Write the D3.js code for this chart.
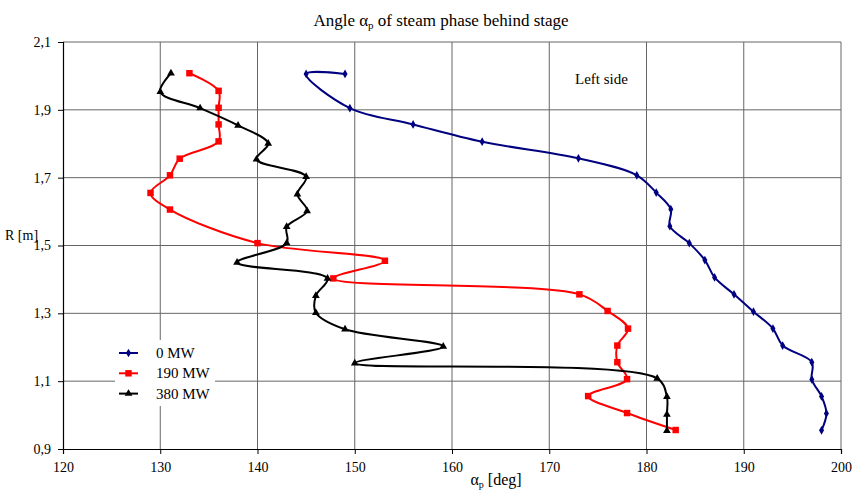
<!DOCTYPE html>
<html>
<head>
<meta charset="utf-8">
<script src="https://cdn.jsdelivr.net/npm/d3@7"></script>
<style>
  body { margin: 0; background: #fff; }
  text { font-family: "Liberation Serif", "Times New Roman", serif; fill: #000; }
</style>
</head>
<body>
<svg id="chart"></svg>
<script>
// series names
var seriesNames = ["0 MW", "190 MW", "380 MW"];

// 0 MW
var angle0 = [149.0, 145.0, 149.5, 156.0, 163.1, 173.0, 179.0, 181.0, 182.5, 182.4, 184.4,
  186.0, 187.0, 189.0, 191.0, 193.0, 194.0, 197.0, 197.0, 198.0, 198.5, 198.0];
var radius0 = [2.006, 2.006, 1.905, 1.857, 1.806, 1.757, 1.707, 1.656, 1.607, 1.557, 1.507,
  1.457, 1.406, 1.356, 1.305, 1.255, 1.205, 1.156, 1.105, 1.055, 1.005, 0.955];

// 190 MW
var angle190 = [133.0, 136.0, 136.0, 136.0, 136.0, 132.0, 131.0, 129.0, 131.0, 140.0, 153.1,
  147.8, 173.1, 176.0, 178.1, 177.0, 177.0, 178.0, 174.0, 178.0, 183.0];
var radius190 = [2.008, 1.956, 1.906, 1.857, 1.807, 1.756, 1.707, 1.655, 1.606, 1.507, 1.455,
  1.403, 1.356, 1.307, 1.255, 1.205, 1.156, 1.106, 1.056, 1.006, 0.956];

// 380 MW
var angle380 = [131.1, 130.0, 134.1, 138.0, 141.1, 139.9, 145.0, 144.1, 145.1, 143.0, 143.0,
  137.9, 147.2, 146.0, 146.0, 149.0, 159.1, 150.0, 181.1, 182.1, 182.1, 182.1];
var radius380 = [2.008, 1.953, 1.905, 1.854, 1.801, 1.754, 1.703, 1.651, 1.602, 1.555, 1.507,
  1.450, 1.403, 1.352, 1.302, 1.253, 1.202, 1.153, 1.108, 1.054, 1.002, 0.954];

var xTicks = [120, 130, 140, 150, 160, 170, 180, 190, 200];
var yTicks = [0.9, 1.1, 1.3, 1.5, 1.7, 1.9, 2.1];

var W = 853, H = 491;
var plotL = 63, plotR = 841, plotT = 42, plotB = 449;

var svg = d3.select("#chart").attr("width", W).attr("height", H);

var x = d3.scaleLinear().domain([120, 200]).range([plotL, plotR]);
var y = d3.scaleLinear().domain([0.9, 2.1]).range([plotB, plotT]);

// grid
svg.append("g").selectAll("line")
  .data(xTicks.slice(1))
  .enter().append("line")
  .attr("x1", d => x(d)).attr("x2", d => x(d))
  .attr("y1", plotT).attr("y2", plotB)
  .attr("stroke", "#666").attr("stroke-width", 1);

svg.append("g").selectAll("line")
  .data(yTicks.slice(1))
  .enter().append("line")
  .attr("x1", plotL).attr("x2", plotR)
  .attr("y1", d => y(d)).attr("y2", d => y(d))
  .attr("stroke", "#666").attr("stroke-width", 1);

// axes
var fmt = d => d3.format(".1f")(d).replace(".", ",");

var gx = svg.append("g")
  .attr("transform", "translate(0," + plotB + ")")
  .call(d3.axisBottom(x).tickValues(xTicks).tickSize(5).tickPadding(8));
var gy = svg.append("g")
  .attr("transform", "translate(" + plotL + ",0)")
  .call(d3.axisLeft(y).tickValues(yTicks).tickSize(5).tickPadding(7).tickFormat(fmt));

[gx, gy].forEach(function (g) {
  g.select(".domain").attr("stroke", "#000").attr("stroke-width", 1.2);
  g.selectAll(".tick line").attr("stroke", "#000");
  g.selectAll("text").style("font-size", "14px").style("font-family", "Liberation Serif");
});

// legend box (behind curves)
svg.append("rect")
  .attr("x", 115).attr("y", 340).attr("width", 100).attr("height", 66)
  .attr("fill", "#fff");

// series
var series = [
  { name: seriesNames[0], a: angle0, r: radius0, color: "#000080", sym: d3.symbolDiamond, size: 22 },
  { name: seriesNames[1], a: angle190, r: radius190, color: "#ff0000", sym: d3.symbolSquare, size: 42 },
  { name: seriesNames[2], a: angle380, r: radius380, color: "#000000", sym: d3.symbolTriangle, size: 26 }
];

var line = d3.line()
  .x(d => x(d[0]))
  .y(d => y(d[1]))
  .curve(d3.curveCatmullRom.alpha(0.5));

series.forEach(function (s) {
  var pts = s.a.map((v, i) => [v, s.r[i]]);
  svg.append("path")
    .datum(pts)
    .attr("d", line)
    .attr("fill", "none")
    .attr("stroke", s.color)
    .attr("stroke-width", 2);
  svg.append("g").selectAll("path")
    .data(pts)
    .enter().append("path")
    .attr("transform", d => "translate(" + x(d[0]) + "," + y(d[1]) + ")")
    .attr("d", d3.symbol().type(s.sym).size(s.size))
    .attr("fill", s.color);
});

// legend
series.forEach(function (s, i) {
  var ly = 353 + i * 20.3;
  svg.append("line")
    .attr("x1", 119).attr("x2", 138).attr("y1", ly).attr("y2", ly)
    .attr("stroke", s.color).attr("stroke-width", 2);
  svg.append("path")
    .attr("transform", "translate(128.5," + ly + ")")
    .attr("d", d3.symbol().type(s.sym).size(s.size))
    .attr("fill", s.color);
  svg.append("text")
    .attr("x", 156).attr("y", ly + 5)
    .style("font-size", "15px")
    .text(s.name);
});

// title
var title = svg.append("text")
  .attr("x", 441).attr("y", 26)
  .attr("text-anchor", "middle")
  .style("font-size", "17px");
title.append("tspan").text("Angle \u03b1");
title.append("tspan").attr("dy", 3).style("font-size", "11px").text("p");
title.append("tspan").attr("dy", -3).text(" of steam phase behind stage");

// x label
var xl = svg.append("text")
  .attr("x", 496).attr("y", 485)
  .attr("text-anchor", "middle")
  .style("font-size", "16px");
xl.append("tspan").text("\u03b1");
xl.append("tspan").attr("dy", 3).style("font-size", "10px").text("p");
xl.append("tspan").attr("dy", -3).text(" [deg]");

// y label
svg.append("text")
  .attr("x", 5).attr("y", 240)
  .style("font-size", "14px")
  .text("R [m]");

svg.append("text")
  .attr("x", 575).attr("y", 84)
  .style("font-size", "15px")
  .text("Left side");
</script>
</body>
</html>
